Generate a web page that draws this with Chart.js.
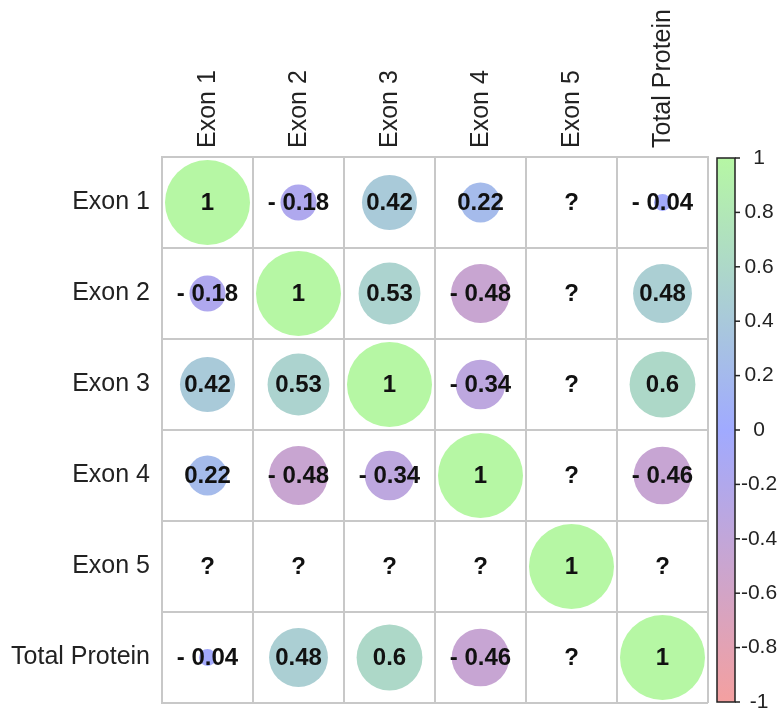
<!DOCTYPE html>
<html>
<head>
<meta charset="utf-8">
<script src="https://cdn.jsdelivr.net/npm/chart.js@4"></script>
<style>
  html, body { margin: 0; padding: 0; background: #fff; }
  #wrap { width: 778px; height: 713px; }
</style>
</head>
<body>
<div id="wrap"><canvas id="corr"></canvas></div>
<script>
const variables = ['Exon 1', 'Exon 2', 'Exon 3', 'Exon 4', 'Exon 5', 'Total Protein'];

// correlation rows, null = "?" (not computable)
const exon1Row = [1, -0.18, 0.42, 0.22, null, -0.04];
const exon2Row = [-0.18, 1, 0.53, -0.48, null, 0.48];
const exon3Row = [0.42, 0.53, 1, -0.34, null, 0.6];
const exon4Row = [0.22, -0.48, -0.34, 1, null, -0.46];
const exon5Row = [null, null, null, null, 1, null];
const totalRow = [-0.04, 0.48, 0.6, -0.46, null, 1];

const colorbarTicks = [1, 0.8, 0.6, 0.4, 0.2, 0, -0.2, -0.4, -0.6, -0.8, -1];

// palette: red (-1) -> blue (0) -> green (1), pastel
const palette = { neg: [244, 160, 160], mid: [160, 170, 255], pos: [182, 247, 164] };

const rows = [exon1Row, exon2Row, exon3Row, exon4Row, exon5Row, totalRow];

const LEFT = 162, TOP = 157, RIGHT_PAD = 70;

function colorFor(v) {
  const a = palette.mid;
  const b = v >= 0 ? palette.pos : palette.neg;
  const t = Math.abs(v);
  const c = a.map((x, i) => Math.round(x + (b[i] - x) * t));
  return `rgb(${c[0]},${c[1]},${c[2]})`;
}

function fmt(v) {
  if (v === null) return '?';
  return v < 0 ? '- ' + String(-v) : String(v);
}

const points = [];
rows.forEach((row, i) => {
  row.forEach((v, j) => {
    points.push({ x: variables[j], y: variables[i], v });
  });
});

const FONT = '"Liberation Sans", Arial, sans-serif';

const cellLabels = {
  id: 'cellLabels',
  afterDatasetsDraw(chart) {
    const ctx = chart.ctx;
    const meta = chart.getDatasetMeta(0);
    ctx.save();
    ctx.font = `bold 24px ${FONT}`;
    ctx.fillStyle = '#111';
    ctx.textAlign = 'center';
    ctx.textBaseline = 'middle';
    meta.data.forEach((el, i) => {
      ctx.fillText(fmt(points[i].v), el.x, el.y + 1);
    });
    ctx.restore();
  }
};

const colorbar = {
  id: 'colorbar',
  afterDraw(chart) {
    const ctx = chart.ctx;
    const area = chart.chartArea;
    const left = area.right + 9, w = 18;
    const top = area.top + 1, bottom = area.bottom - 1;
    const grad = ctx.createLinearGradient(0, top, 0, bottom);
    grad.addColorStop(0, colorFor(1));
    grad.addColorStop(0.5, colorFor(0));
    grad.addColorStop(1, colorFor(-1));
    ctx.save();
    ctx.fillStyle = grad;
    ctx.fillRect(left, top, w, bottom - top);
    ctx.strokeStyle = '#222';
    ctx.lineWidth = 1.5;
    ctx.strokeRect(left, top, w, bottom - top);
    ctx.font = `21px ${FONT}`;
    ctx.fillStyle = '#222';
    ctx.textAlign = 'center';
    ctx.textBaseline = 'middle';
    colorbarTicks.forEach(t => {
      const y = top + (1 - t) / 2 * (bottom - top);
      ctx.beginPath();
      ctx.moveTo(left + w, y);
      ctx.lineTo(left + w + 5, y);
      ctx.stroke();
      ctx.fillText(t < 0 ? '-' + String(-t) : String(t), left + w + 24, y);
    });
    ctx.restore();
  }
};

new Chart(document.getElementById('corr'), {
  type: 'bubble',
  data: {
    datasets: [{
      data: points,
      backgroundColor: ctx => ctx.raw && ctx.raw.v !== null ? colorFor(ctx.raw.v) : 'rgba(0,0,0,0)',
      borderWidth: 0,
      radius: ctx => {
        const v = ctx.raw ? ctx.raw.v : null;
        if (v === null || v === undefined) return 0;
        const cell = (ctx.chart.width - LEFT - RIGHT_PAD) / variables.length;
        return cell * 0.467 * Math.sqrt(Math.abs(v));
      },
      hoverRadius: 0
    }]
  },
  options: {
    responsive: true,
    maintainAspectRatio: false,
    animation: false,
    layout: { autoPadding: false, padding: { right: RIGHT_PAD, bottom: 10 } },
    plugins: { legend: { display: false }, tooltip: { enabled: false } },
    scales: {
      x: {
        type: 'category',
        labels: variables,
        position: 'top',
        offset: true,
        grid: { offset: true, color: '#c8c8c8', lineWidth: 2, drawTicks: false },
        border: { color: '#c8c8c8', width: 2 },
        ticks: { minRotation: 90, maxRotation: 90, padding: 9, labelOffset: 31, color: '#222', font: { family: FONT, size: 25 } },
        afterFit: s => { s.height = TOP; s.paddingLeft = 0; s.paddingRight = 0; }
      },
      y: {
        type: 'category',
        labels: variables,
        offset: true,
        grid: { offset: true, color: '#c8c8c8', lineWidth: 2, drawTicks: false },
        border: { color: '#c8c8c8', width: 2 },
        ticks: { padding: 12, color: '#222', font: { family: FONT, size: 25 } },
        afterFit: s => { s.width = LEFT; s.paddingTop = 0; s.paddingBottom = 0; }
      }
    }
  },
  plugins: [cellLabels, colorbar]
});
</script>
</body>
</html>
